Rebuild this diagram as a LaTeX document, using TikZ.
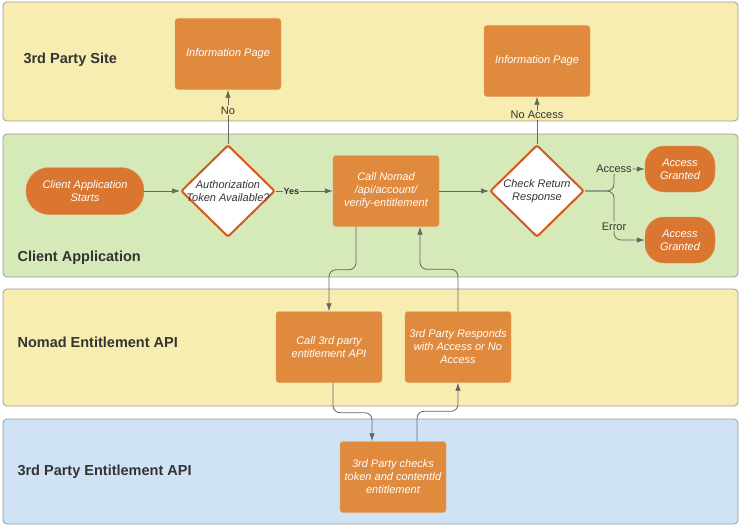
\documentclass[tikz,border=0pt]{standalone}
\usepackage{fontspec}
\setmainfont{Liberation Sans}
\usepackage{xcolor}
\usetikzlibrary{shapes.geometric, arrows.meta, positioning, calc}

\definecolor{laneyellow}{HTML}{F8EDB0}
\definecolor{lanegreen}{HTML}{D6E9B9}
\definecolor{laneblue}{HTML}{D0E3F5}
\definecolor{boxorange}{HTML}{E08A3E}
\definecolor{startorange}{HTML}{DA7630}
\definecolor{decborder}{HTML}{D4591E}
\definecolor{linegray}{HTML}{666666}
\definecolor{textgray}{HTML}{333333}

\begin{document}
\begin{tikzpicture}[x=1pt, y=-1pt, >={Latex[length=8pt, width=5.5pt]},
    lane/.style={draw=gray!80, line width=0.8pt, rounded corners=4pt},
    lanelabel/.style={anchor=west, font=\fontsize{14.5}{17}\selectfont\bfseries, text=textgray},
    box/.style={fill=boxorange, draw=boxorange!80!white, rounded corners=3pt, minimum width=106pt, minimum height=71pt, align=center, text=white, font=\fontsize{11}{13}\selectfont\itshape},
    pill/.style={fill=startorange, draw=startorange!80!white, align=center, text=white, font=\fontsize{11}{13}\selectfont\itshape},
    decision/.style={diamond, draw=decborder, line width=2pt, fill=white, rounded corners=2pt, minimum width=94pt, minimum height=92pt, inner sep=0pt},
    dectext/.style={align=center, text=textgray, font=\fontsize{11}{13}\selectfont\itshape},
    flow/.style={->, draw=linegray, line width=0.8pt, rounded corners=7pt},
    flowlabel/.style={text=textgray, font=\fontsize{11}{13}\selectfont, inner sep=1pt}]
    \useasboundingbox (0,0) rectangle (743,527);

    % swim lanes
    \draw[lane, fill=laneyellow] (3,2) rectangle (738,121);
    \draw[lane, fill=lanegreen] (3,134) rectangle (738,277);
    \draw[lane, fill=laneyellow] (3,289) rectangle (738,406);
    \draw[lane, fill=laneblue] (3,419) rectangle (738,524);

    \node[lanelabel] (siteLabel) at (20,60) {3rd Party Site};
    \node[lanelabel] (clientLabel) at (14,258) {Client Application};
    \node[lanelabel] (nomadLabel) at (14,342) {Nomad Entitlement API};
    \node[lanelabel] (entLabel) at (14,472) {3rd Party Entitlement API};

    % nodes
    \node[box] (info1) at (228,54) {Information Page};
    \node[box] (info2) at (537,61) {Information Page};
    \node[pill, rounded corners=23pt, minimum width=118pt, minimum height=47pt] (start) at (85,191) {Client Application\\Starts};
    \node[decision] (auth) at (228,191) {};
    \node[dectext] (authText) at (auth) {Authorization\\Token Available?};
    \node[box] (nomad) at (386,191) {Call Nomad\\/api/account/\\verify-entitlement};
    \node[decision] (check) at (537,191) {};
    \node[dectext] (checkText) at (check) {Check Return\\Response};
    \node[pill, rounded corners=19pt, minimum width=70pt, minimum height=46pt] (grant1) at (680,169) {Access\\Granted};
    \node[pill, rounded corners=19pt, minimum width=70pt, minimum height=46pt] (grant2) at (680,240) {Access\\Granted};
    \node[box] (call3) at (329,347) {Call 3rd party\\entitlement API};
    \node[box] (responds) at (458,347) {3rd Party Responds\\with Access or No\\Access};
    \node[box] (checks) at (393,477) {3rd Party checks\\token and contentId\\entitlement};
    \coordinate (split) at (614,191);

    % connectors
    \draw[flow] (start) -- (auth);
    \draw[flow] (auth.north) -- node[flowlabel, pos=0.62, fill=laneyellow] {No} (info1.south);
    \draw[flow] (auth.east) -- node[flowlabel, pos=0.27, fill=lanegreen, font=\fontsize{9}{11}\selectfont\bfseries] {Yes} (nomad.west);
    \draw[flow] (nomad) -- (check);
    \draw[flow] (check.north) -- node[flowlabel, pos=0.61, fill=laneyellow] {No Access} (info2.south);
    \draw[flow] (check.east) -- (split) |- node[flowlabel, pos=0.5, fill=lanegreen] {Access} (grant1.west);
    \draw[flow] (check.east) -- (split) |- node[flowlabel, pos=0.36, fill=lanegreen] {Error} (grant2.west);
    \draw[flow] ([xshift=-30pt]nomad.south) -- ++(0,43) -| (call3.north);
    \draw[flow] (responds.north) -- ++(0,-42) -| ([xshift=34pt]nomad.south);
    \draw[flow] ([xshift=4pt]call3.south) -- ++(0,30) -| ([xshift=-21pt]checks.north);
    \draw[flow] ([xshift=24pt]checks.north) -- ++(0,-30) -| (responds.south);
\end{tikzpicture}
\end{document}
